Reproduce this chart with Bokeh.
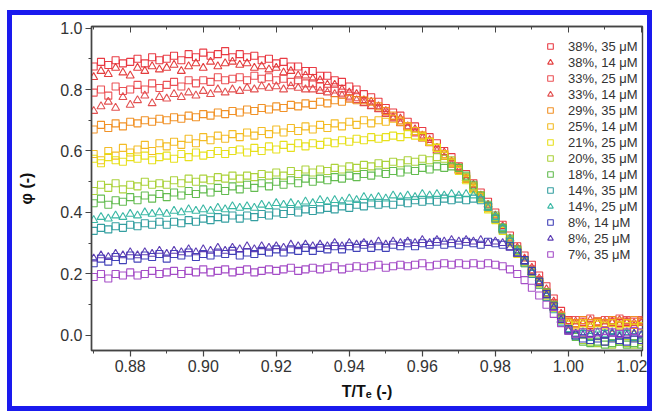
from bokeh.plotting import figure
from bokeh.models import (Range1d, LinearAxis, FixedTicker, NumeralTickFormatter, Legend,
                          LegendItem, CustomLabelingPolicy)
from bokeh.embed import file_html
from bokeh.resources import INLINE

# ---------------- data ----------------
T = [0.870, 0.872, 0.874, 0.876, 0.878, 0.880, 0.882, 0.884, 0.886, 0.888,
     0.890, 0.892, 0.894, 0.896, 0.898, 0.900, 0.902, 0.904, 0.906, 0.908,
     0.910, 0.912, 0.914, 0.916, 0.918, 0.920, 0.922, 0.924, 0.926, 0.928,
     0.930, 0.932, 0.934, 0.936, 0.938, 0.940, 0.942, 0.944, 0.946, 0.948,
     0.950, 0.952, 0.954, 0.956, 0.958, 0.960, 0.962, 0.964, 0.966, 0.968,
     0.970, 0.972, 0.974, 0.976, 0.978, 0.980, 0.982, 0.984, 0.986, 0.988,
     0.990, 0.992, 0.994, 0.996, 0.998, 1.000, 1.002, 1.004, 1.006, 1.008,
     1.010, 1.012, 1.014, 1.016, 1.018, 1.020]

phi_38_35 = [0.875, 0.89, 0.88, 0.895, 0.885, 0.89, 0.9, 0.885, 0.905, 0.895,
             0.9, 0.91, 0.895, 0.915, 0.905, 0.92, 0.91, 0.915, 0.925, 0.905,
             0.915, 0.905, 0.91, 0.895, 0.9, 0.885, 0.89, 0.875, 0.875, 0.86,
             0.86, 0.845, 0.845, 0.83, 0.825, 0.81, 0.8, 0.785, 0.775, 0.76,
             0.74, 0.725, 0.715, 0.695, 0.68, 0.665, 0.645, 0.625, 0.6, 0.58,
             0.55, 0.525, 0.495, 0.465, 0.435, 0.4, 0.36, 0.325, 0.29, 0.26,
             0.23, 0.195, 0.16, 0.12, 0.08, 0.05, 0.04, 0.05, 0.035, 0.045,
             0.04, 0.05, 0.04, 0.045, 0.035, 0.045]
phi_38_14 = [0.84, 0.86, 0.85, 0.87, 0.855, 0.845, 0.87, 0.86, 0.875, 0.865,
             0.87, 0.88, 0.86, 0.875, 0.885, 0.87, 0.89, 0.875, 0.885, 0.89,
             0.88, 0.885, 0.87, 0.875, 0.865, 0.87, 0.855, 0.86, 0.845, 0.845,
             0.835, 0.83, 0.815, 0.815, 0.8, 0.79, 0.785, 0.765, 0.76, 0.745,
             0.73, 0.71, 0.705, 0.68, 0.67, 0.65, 0.635, 0.61, 0.595, 0.565,
             0.545, 0.51, 0.49, 0.455, 0.425, 0.39, 0.355, 0.315, 0.285, 0.25,
             0.22, 0.185, 0.15, 0.11, 0.07, 0.04, 0.035, 0.04, 0.03, 0.04,
             0.035, 0.045, 0.035, 0.04, 0.03, 0.04]
phi_33_25 = [0.79, 0.80, 0.78, 0.81, 0.795, 0.80, 0.815, 0.80, 0.82, 0.805,
             0.815, 0.825, 0.81, 0.83, 0.82, 0.83, 0.825, 0.84, 0.83, 0.835,
             0.84, 0.83, 0.845, 0.835, 0.84, 0.83, 0.835, 0.825, 0.83, 0.82,
             0.82, 0.81, 0.805, 0.8, 0.79, 0.78, 0.775, 0.76, 0.75, 0.74,
             0.725, 0.71, 0.695, 0.68, 0.66, 0.645, 0.63, 0.605, 0.585, 0.56,
             0.54, 0.51, 0.48, 0.45, 0.42, 0.385, 0.35, 0.31, 0.28, 0.245,
             0.215, 0.18, 0.14, 0.105, 0.065, 0.045, 0.05, 0.045, 0.055, 0.045,
             0.05, 0.045, 0.055, 0.05, 0.045, 0.05]
phi_33_14 = [0.73, 0.745, 0.76, 0.74, 0.775, 0.75, 0.765, 0.78, 0.755, 0.775,
             0.77, 0.785, 0.775, 0.79, 0.78, 0.795, 0.785, 0.8, 0.79, 0.80,
             0.795, 0.805, 0.8, 0.81, 0.805, 0.81, 0.8, 0.81, 0.805, 0.8,
             0.8, 0.795, 0.79, 0.785, 0.78, 0.77, 0.765, 0.755, 0.745, 0.735,
             0.72, 0.705, 0.69, 0.675, 0.66, 0.64, 0.625, 0.6, 0.58, 0.555,
             0.535, 0.505, 0.475, 0.445, 0.415, 0.38, 0.345, 0.305, 0.275, 0.24,
             0.21, 0.175, 0.135, 0.1, 0.06, 0.04, 0.045, 0.04, 0.05, 0.04,
             0.045, 0.04, 0.05, 0.045, 0.04, 0.045]
phi_29_35 = [0.67, 0.685, 0.675, 0.69, 0.68, 0.695, 0.69, 0.70, 0.695, 0.705,
             0.70, 0.71, 0.705, 0.715, 0.71, 0.72, 0.715, 0.725, 0.72, 0.73,
             0.725, 0.735, 0.73, 0.74, 0.735, 0.745, 0.74, 0.75, 0.745, 0.755,
             0.75, 0.76, 0.755, 0.765, 0.76, 0.77, 0.765, 0.765, 0.76, 0.745,
             0.73, 0.715, 0.70, 0.68, 0.665, 0.65, 0.63, 0.61, 0.59, 0.565,
             0.54, 0.51, 0.485, 0.455, 0.42, 0.385, 0.35, 0.31, 0.275, 0.245,
             0.21, 0.175, 0.14, 0.1, 0.065, 0.045, 0.04, 0.05, 0.04, 0.045,
             0.04, 0.05, 0.045, 0.04, 0.05, 0.045]
phi_25_14 = [0.59, 0.57, 0.6, 0.585, 0.61, 0.595, 0.605, 0.62, 0.6, 0.625,
             0.615, 0.63, 0.62, 0.64, 0.625, 0.645, 0.635, 0.65, 0.64, 0.655,
             0.645, 0.66, 0.65, 0.665, 0.655, 0.67, 0.66, 0.675, 0.665, 0.68,
             0.67, 0.685, 0.675, 0.69, 0.68, 0.695, 0.685, 0.70, 0.69, 0.70,
             0.695, 0.705, 0.695, 0.68, 0.665, 0.65, 0.63, 0.61, 0.59, 0.565,
             0.54, 0.51, 0.48, 0.45, 0.415, 0.38, 0.345, 0.305, 0.27, 0.24,
             0.205, 0.17, 0.13, 0.095, 0.06, 0.04, 0.035, 0.04, 0.03, 0.04,
             0.035, 0.04, 0.03, 0.04, 0.035, 0.03]
phi_21_25 = [0.575, 0.56, 0.58, 0.57, 0.565, 0.58, 0.575, 0.585, 0.57, 0.58,
             0.585, 0.575, 0.59, 0.58, 0.595, 0.585, 0.59, 0.6, 0.59, 0.6,
             0.605, 0.595, 0.61, 0.6, 0.615, 0.605, 0.62, 0.61, 0.625, 0.615,
             0.625, 0.62, 0.63, 0.625, 0.635, 0.63, 0.64, 0.635, 0.645, 0.64,
             0.645, 0.65, 0.645, 0.655, 0.65, 0.645, 0.63, 0.61, 0.585, 0.56,
             0.535, 0.505, 0.475, 0.445, 0.41, 0.375, 0.34, 0.3, 0.265, 0.235,
             0.2, 0.165, 0.125, 0.09, 0.055, 0.035, 0.03, 0.035, 0.025, 0.035,
             0.03, 0.025, 0.035, 0.03, 0.025, 0.03]
phi_20_35 = [0.47, 0.49, 0.48, 0.495, 0.475, 0.49, 0.485, 0.5, 0.49, 0.495,
             0.49, 0.505, 0.495, 0.51, 0.5, 0.51, 0.505, 0.515, 0.51, 0.52,
             0.51, 0.52, 0.515, 0.525, 0.52, 0.53, 0.52, 0.535, 0.525, 0.54,
             0.53, 0.54, 0.535, 0.545, 0.54, 0.55, 0.545, 0.555, 0.55, 0.56,
             0.555, 0.565, 0.56, 0.57, 0.565, 0.575, 0.57, 0.58, 0.575, 0.57,
             0.545, 0.515, 0.485, 0.455, 0.42, 0.385, 0.35, 0.31, 0.275, 0.24,
             0.205, 0.17, 0.13, 0.09, 0.05, 0.02, 0.0, -0.015, -0.02, -0.025,
             -0.02, -0.03, -0.02, -0.025, -0.03, -0.02]
phi_18_14 = [0.43, 0.445, 0.425, 0.44, 0.435, 0.45, 0.44, 0.455, 0.445, 0.46,
             0.45, 0.465, 0.455, 0.47, 0.46, 0.475, 0.465, 0.48, 0.47, 0.485,
             0.475, 0.49, 0.48, 0.495, 0.485, 0.5, 0.49, 0.505, 0.495, 0.51,
             0.5, 0.51, 0.505, 0.515, 0.51, 0.52, 0.515, 0.525, 0.52, 0.53,
             0.525, 0.535, 0.53, 0.54, 0.535, 0.545, 0.54, 0.55, 0.545, 0.55,
             0.545, 0.52, 0.49, 0.455, 0.425, 0.39, 0.35, 0.315, 0.28, 0.245,
             0.21, 0.175, 0.14, 0.1, 0.06, 0.02, -0.005, -0.02, -0.025, -0.02,
             -0.03, -0.025, -0.02, -0.03, -0.025, -0.03]
phi_14_35 = [0.34, 0.35, 0.345, 0.355, 0.35, 0.36, 0.355, 0.365, 0.36, 0.37,
             0.36, 0.37, 0.365, 0.375, 0.37, 0.38, 0.375, 0.385, 0.38, 0.39,
             0.38, 0.39, 0.385, 0.395, 0.39, 0.4, 0.395, 0.405, 0.4, 0.41,
             0.405, 0.41, 0.415, 0.41, 0.42, 0.415, 0.425, 0.42, 0.43, 0.425,
             0.43, 0.425, 0.435, 0.43, 0.44, 0.435, 0.44, 0.435, 0.445, 0.44,
             0.445, 0.44, 0.445, 0.44, 0.42, 0.38, 0.345, 0.305, 0.27, 0.235,
             0.2, 0.165, 0.125, 0.085, 0.045, 0.015, 0.0, 0.005, -0.005, 0.0,
             0.005, -0.005, 0.0, 0.005, -0.005, 0.0]
phi_14_25 = [0.375, 0.385, 0.38, 0.39, 0.385, 0.395, 0.39, 0.4, 0.395, 0.4,
             0.395, 0.405, 0.4, 0.41, 0.405, 0.41, 0.405, 0.415, 0.41, 0.42,
             0.415, 0.42, 0.415, 0.425, 0.42, 0.43, 0.425, 0.43, 0.425, 0.435,
             0.43, 0.44, 0.435, 0.44, 0.435, 0.445, 0.44, 0.45, 0.445, 0.45,
             0.445, 0.455, 0.45, 0.455, 0.45, 0.46, 0.455, 0.46, 0.455, 0.46,
             0.455, 0.46, 0.455, 0.445, 0.415, 0.385, 0.35, 0.31, 0.275, 0.24,
             0.205, 0.17, 0.13, 0.09, 0.05, 0.02, 0.005, 0.01, 0.0, 0.01,
             0.005, 0.01, 0.0, 0.01, 0.005, 0.0]
phi_8_14 = [0.235, 0.25, 0.24, 0.255, 0.245, 0.26, 0.25, 0.26, 0.255, 0.265,
            0.25, 0.265, 0.26, 0.27, 0.255, 0.265, 0.26, 0.27, 0.265, 0.275,
            0.26, 0.27, 0.265, 0.275, 0.27, 0.28, 0.27, 0.28, 0.275, 0.285,
            0.275, 0.285, 0.28, 0.29, 0.28, 0.29, 0.285, 0.295, 0.285, 0.29,
            0.285, 0.295, 0.29, 0.3, 0.29, 0.3, 0.295, 0.305, 0.295, 0.3,
            0.295, 0.305, 0.3, 0.295, 0.305, 0.3, 0.295, 0.29, 0.27, 0.245,
            0.21, 0.175, 0.135, 0.095, 0.055, 0.02, 0.0, -0.01, -0.015, -0.01,
            -0.02, -0.01, -0.015, -0.02, -0.01, -0.015]
phi_8_25 = [0.25, 0.26, 0.255, 0.265, 0.26, 0.27, 0.26, 0.27, 0.265, 0.275,
            0.265, 0.275, 0.27, 0.28, 0.27, 0.28, 0.275, 0.285, 0.275, 0.285,
            0.28, 0.29, 0.28, 0.29, 0.285, 0.29, 0.285, 0.295, 0.29, 0.295,
            0.29, 0.295, 0.29, 0.3, 0.29, 0.3, 0.295, 0.3, 0.295, 0.305,
            0.295, 0.305, 0.3, 0.305, 0.3, 0.31, 0.3, 0.31, 0.305, 0.31,
            0.305, 0.31, 0.305, 0.31, 0.3, 0.305, 0.3, 0.285, 0.265, 0.24,
            0.205, 0.17, 0.13, 0.09, 0.05, 0.015, 0.005, 0.0, 0.005, -0.005,
            0.0, 0.005, -0.005, 0.0, 0.005, 0.0]
phi_7_35 = [0.19, 0.2, 0.185, 0.2, 0.195, 0.205, 0.195, 0.2, 0.21, 0.2,
            0.205, 0.21, 0.2, 0.21, 0.205, 0.215, 0.205, 0.21, 0.215, 0.205,
            0.21, 0.215, 0.205, 0.21, 0.215, 0.21, 0.215, 0.22, 0.21, 0.215,
            0.22, 0.215, 0.22, 0.225, 0.215, 0.22, 0.225, 0.22, 0.225, 0.23,
            0.22, 0.225, 0.23, 0.225, 0.23, 0.235, 0.225, 0.23, 0.235, 0.23,
            0.235, 0.23, 0.235, 0.23, 0.235, 0.23, 0.225, 0.215, 0.2, 0.18,
            0.155, 0.13, 0.1, 0.07, 0.04, 0.015, 0.005, 0.01, 0.005, 0.01,
            0.015, 0.01, 0.005, 0.01, 0.015, 0.01]

labels = ["38%, 35 μM", "38%, 14 μM", "33%, 25 μM", "33%, 14 μM", "29%, 35 μM",
          "25%, 14 μM", "21%, 25 μM", "20%, 35 μM", "18%, 14 μM", "14%, 35 μM",
          "14%, 25 μM", "8%, 14 μM", "8%, 25 μM", "7%, 35 μM"]
series = [phi_38_35, phi_38_14, phi_33_25, phi_33_14, phi_29_35, phi_25_14, phi_21_25,
          phi_20_35, phi_18_14, phi_14_35, phi_14_25, phi_8_14, phi_8_25, phi_7_35]
markers = ["square", "triangle", "square", "triangle", "square", "square", "square",
           "square", "square", "square", "triangle", "square", "triangle", "square"]
colors = ["#e8303a", "#e23434", "#ea4a4e", "#e04848", "#f08c1c", "#f2b81a", "#e6de12",
          "#a8d032", "#5cb848", "#2a9a9c", "#30b4a0", "#3838b4", "#5434b0", "#a044c4"]

x_ticks = [0.88, 0.90, 0.92, 0.94, 0.96, 0.98, 1.00, 1.02]
x_minor = [0.87, 0.88, 0.89, 0.90, 0.91, 0.92, 0.93, 0.94, 0.95, 0.96, 0.97, 0.98, 0.99, 1.00, 1.01, 1.02]
y_ticks = [0.0, 0.2, 0.4, 0.6, 0.8, 1.0]
y_minor = [0.0, 0.1, 0.2, 0.3, 0.4, 0.5, 0.6, 0.7, 0.8, 0.9, 1.0]

# ---------------- figure ----------------
FONT = "Liberation Sans"
AX = "#444444"

p = figure(width=645, height=401, output_backend="svg", toolbar_location=None,
           x_range=Range1d(0.8694, 1.0203), y_range=Range1d(-0.049, 1.005),
           min_border_left=79, min_border_right=15, min_border_top=10, min_border_bottom=66)
# blue frame around the whole figure (shifted, not resized)
p.styles = {"border": "5px solid #1a1aee", "box-sizing": "border-box",
            "position": "relative", "left": "7px", "top": "10px"}
p.xgrid.visible = False
p.ygrid.visible = False
p.outline_line_color = AX
p.outline_line_width = 1.4
p.background_fill_color = "white"
p.border_fill_color = "white"

for ax, ticks, minor, fmt in [(p.xaxis[0], x_ticks, x_minor, "0.00"), (p.yaxis[0], y_ticks, y_minor, "0.0")]:
    ax.ticker = FixedTicker(ticks=ticks, minor_ticks=minor)
    ax.formatter = NumeralTickFormatter(format=fmt)
    ax.axis_line_color = AX
    ax.axis_line_width = 1.4
    ax.major_tick_line_color = AX
    ax.minor_tick_line_color = AX
    ax.major_tick_line_width = 1.2
    ax.minor_tick_line_width = 1.0
    ax.major_tick_out = 6
    ax.major_tick_in = 0
    ax.minor_tick_out = 3
    ax.minor_tick_in = 0
    ax.major_label_text_font = FONT
    ax.major_label_text_font_size = "16px"
    ax.major_label_text_color = "#333333"
    ax.axis_label_text_font = FONT
    ax.axis_label_text_font_size = "16px"
    ax.axis_label_text_font_style = "bold"
    ax.axis_label_text_color = "#111111"

p.xaxis.axis_label = "T/Tₑ (-)"
p.xaxis.major_label_standoff = 3
p.xaxis.axis_label_standoff = 8
p.yaxis.axis_label = "φ (-)"
p.yaxis.major_label_standoff = 3
p.yaxis.axis_label_standoff = 22

hide_all = CustomLabelingPolicy(code="for (const i of Array.from(indices)) { indices.unset(i) }\nreturn indices")
top = LinearAxis(ticker=FixedTicker(ticks=x_ticks, minor_ticks=x_minor),
                 major_tick_in=6, major_tick_out=0, minor_tick_in=3, minor_tick_out=0,
                 major_label_policy=hide_all, major_label_standoff=0,
                 major_label_text_font_size="10px",
                 axis_line_color=AX, axis_line_width=1.4,
                 major_tick_line_color=AX, minor_tick_line_color=AX)
p.add_layout(top, "above")

items = []
for lab, ys, mk, col in zip(labels, series, markers, colors):
    size = 8 if mk == "triangle" else 7
    r = p.scatter(T, ys, marker=mk, size=size, fill_color=None, line_color=col,
                  line_width=1.1, line_alpha=0.95)
    items.append(LegendItem(label=lab, renderers=[r]))

legend = Legend(items=items, location=(452, 88), border_line_color=None,
                background_fill_alpha=0, padding=0, margin=0, spacing=0,
                glyph_height=16, glyph_width=14, label_height=16, label_standoff=11,
                label_text_font=FONT, label_text_font_size="13px",
                label_text_color="#333333")
p.add_layout(legend)

open("out.html", "w").write(file_html(p, INLINE))
